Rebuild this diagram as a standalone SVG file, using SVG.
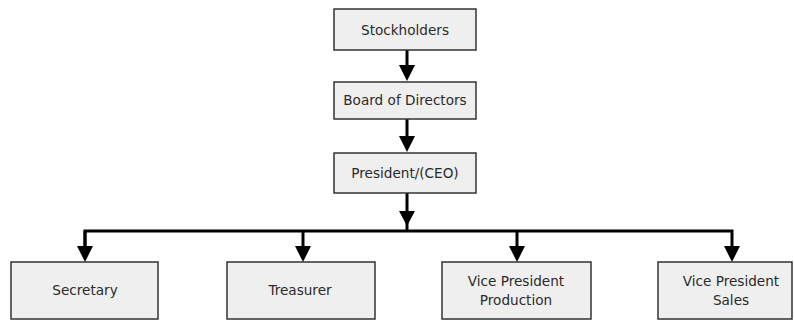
<svg xmlns="http://www.w3.org/2000/svg" width="794" height="320" viewBox="0 0 794 320">
<defs>
<style>
.box{fill:#efefef;stroke:#333;stroke-width:1.5}
.lbl{font-family:"DejaVu Sans",Verdana,sans-serif;font-size:13.6px;fill:#2a2a2a;text-anchor:middle;dominant-baseline:central}
.con{fill:none;stroke:#000;stroke-width:3}
</style>
<marker id="ah" viewBox="0 0 16 16" refX="10" refY="8" markerWidth="16" markerHeight="16" markerUnits="userSpaceOnUse" orient="auto">
<path d="M0,0 L16,8 L0,16 z" fill="#000"/>
</marker>
</defs>
<rect width="794" height="320" fill="#fff"/>
<g id="connectors">
<line class="con" x1="407" y1="50" x2="407" y2="75" marker-end="url(#ah)"/>
<line class="con" x1="407" y1="119" x2="407" y2="146" marker-end="url(#ah)"/>
<line class="con" x1="407" y1="193" x2="407" y2="232"/>
<path d="M399,211 L407,226 L415,211 z" fill="#000"/>
<polyline class="con" points="85,256 85,231 732,231 732,256" marker-end="url(#ah)"/>
<line class="con" x1="85" y1="231" x2="85" y2="256" marker-end="url(#ah)"/>
<line class="con" x1="303" y1="231" x2="303" y2="256" marker-end="url(#ah)"/>
<line class="con" x1="517" y1="231" x2="517" y2="256" marker-end="url(#ah)"/>
</g>
<g id="stockholders"><rect class="box" x="334" y="9" width="142" height="41"/><text class="lbl" x="405" y="30">Stockholders</text></g>
<g id="board"><rect class="box" x="334" y="82" width="142" height="37"/><text class="lbl" x="405" y="100">Board of Directors</text></g>
<g id="president"><rect class="box" x="334" y="153" width="142" height="40"/><text class="lbl" x="405" y="173">President/(CEO)</text></g>
<g id="secretary"><rect class="box" x="11" y="262" width="147" height="57"/><text class="lbl" x="85" y="290">Secretary</text></g>
<g id="treasurer"><rect class="box" x="227" y="262" width="148" height="57"/><text class="lbl" x="300" y="290">Treasurer</text></g>
<g id="vp-production"><rect class="box" x="442" y="262" width="149" height="57"/><text class="lbl" x="516" y="281">Vice President</text><text class="lbl" x="516" y="300">Production</text></g>
<g id="vp-sales"><rect class="box" x="658" y="262" width="134" height="57"/><text class="lbl" x="731" y="281">Vice President</text><text class="lbl" x="731" y="300">Sales</text></g>
</svg>
